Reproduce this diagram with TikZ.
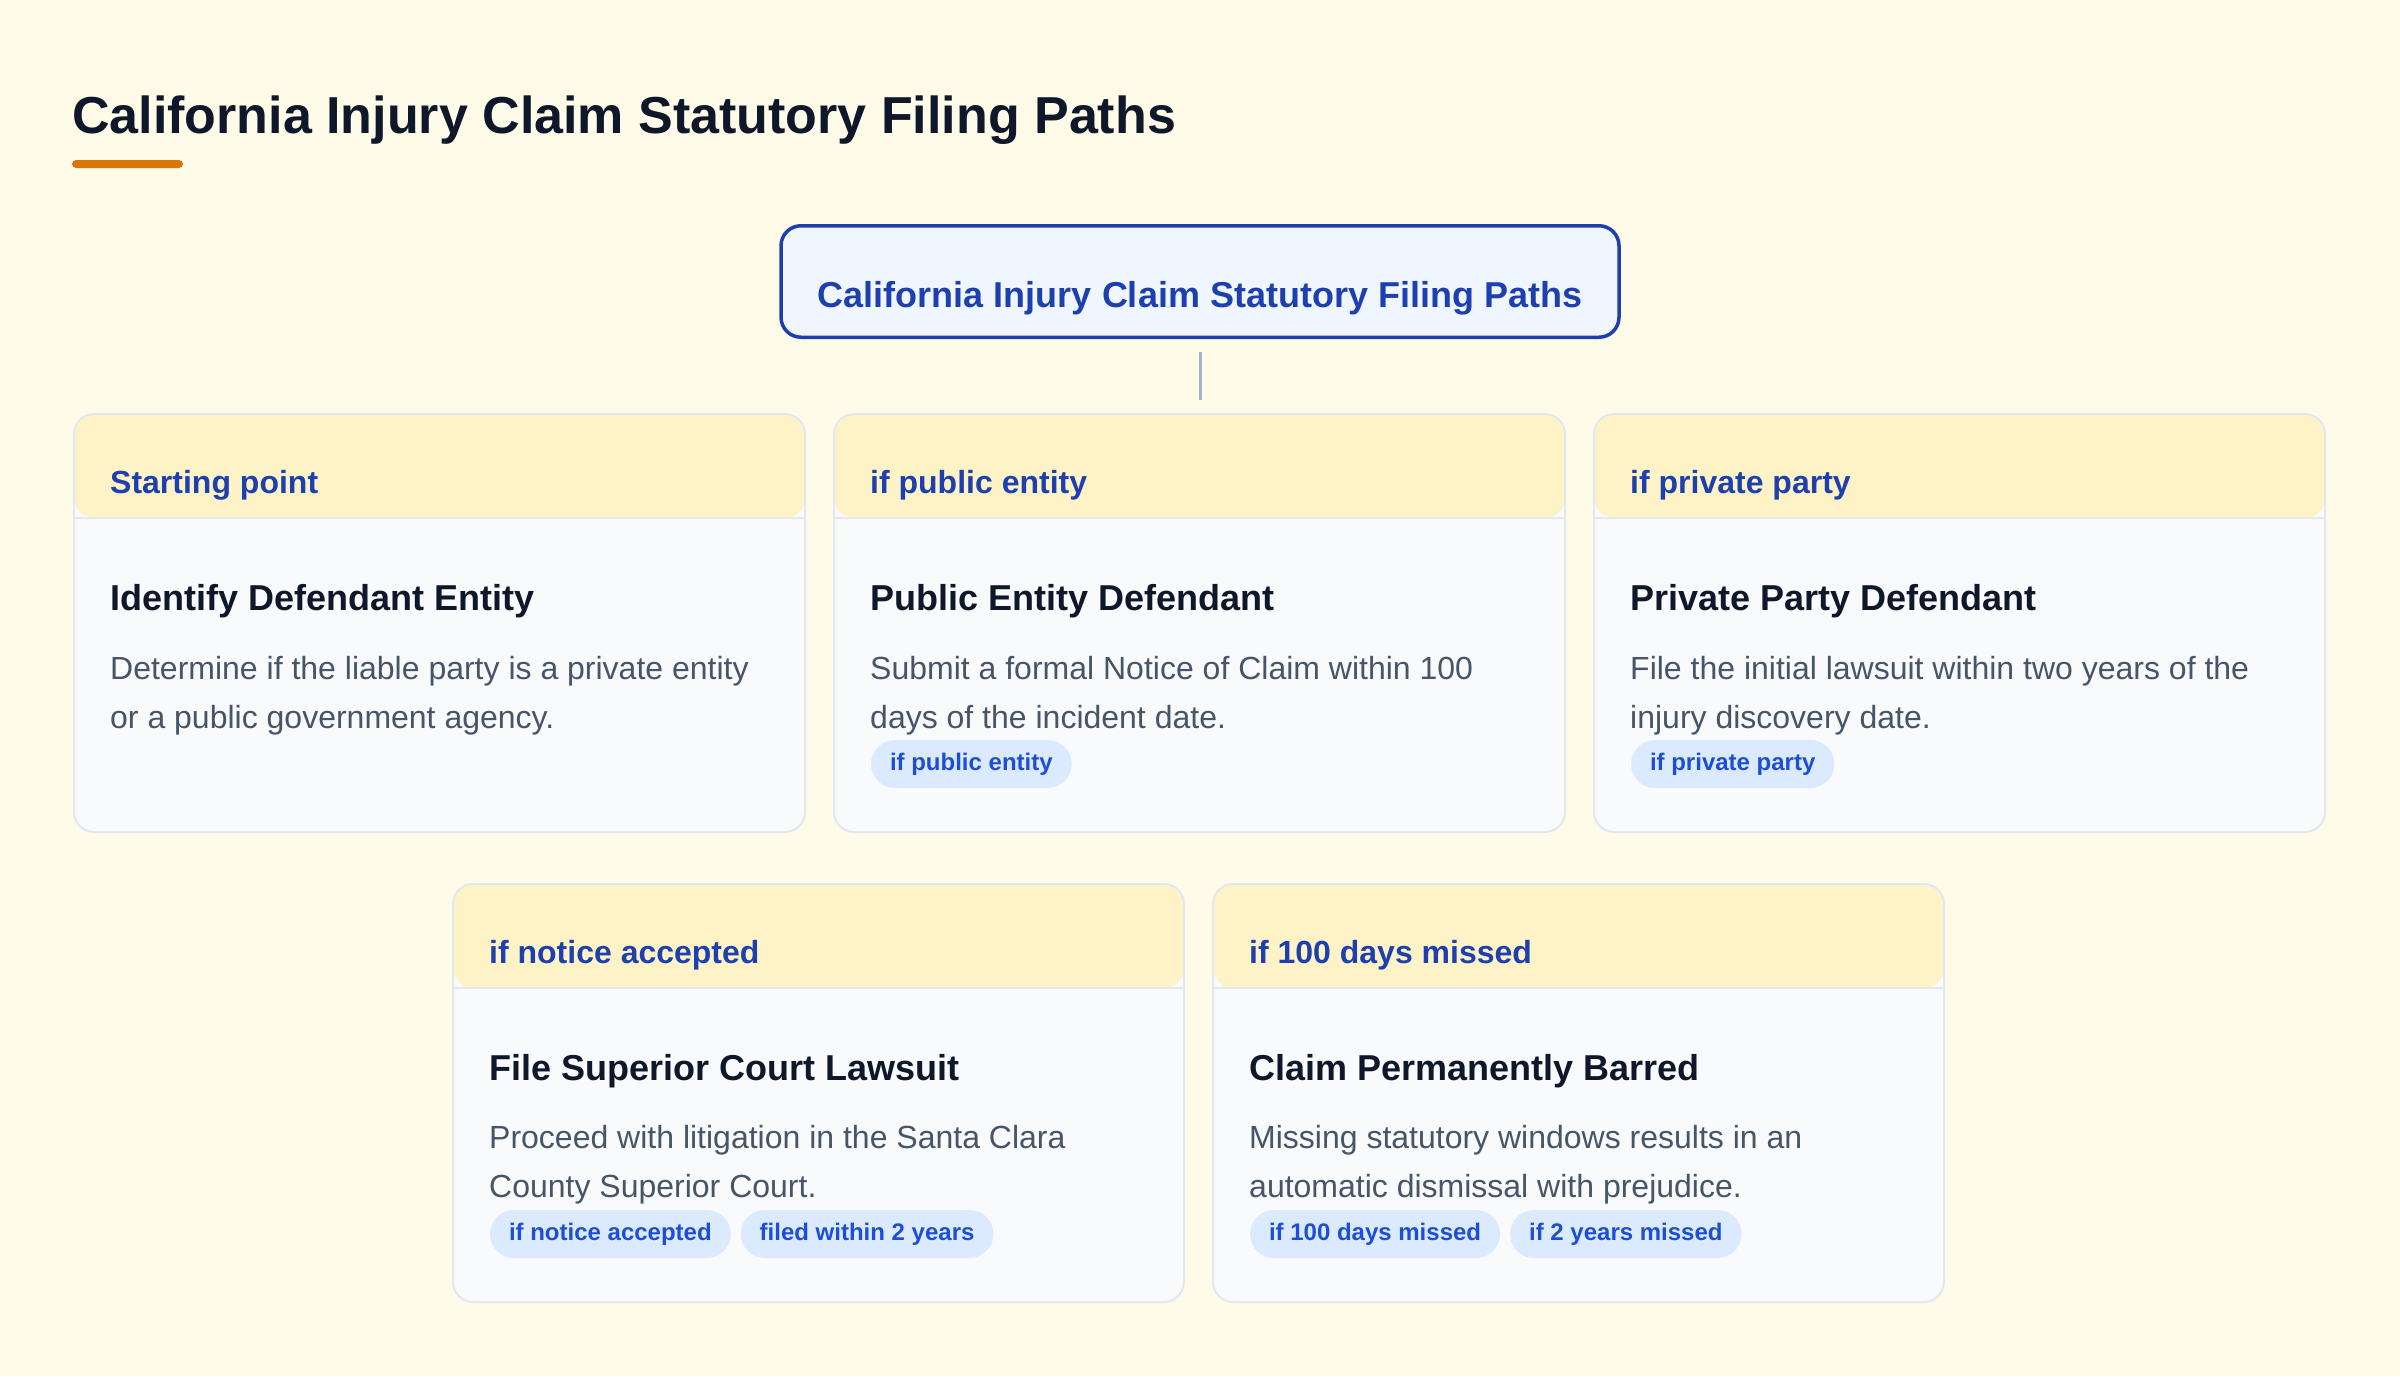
\documentclass[tikz,border=0pt]{standalone}
\usepackage{fontspec}
\setmainfont{Liberation Sans}
\usetikzlibrary{positioning}
\definecolor{bgcream}{HTML}{FEFCE8}
\definecolor{headfill}{HTML}{FEF3C7}
\definecolor{cardbody}{HTML}{F8FAFC}
\definecolor{cardline}{HTML}{E2E8F0}
\definecolor{rootfill}{HTML}{EFF6FF}
\definecolor{rootblue}{HTML}{1E40AF}
\definecolor{ink}{HTML}{0F172A}
\definecolor{slate}{HTML}{475569}
\definecolor{chipfill}{HTML}{DBEAFE}
\definecolor{chipblue}{HTML}{1D4ED8}
\definecolor{accent}{HTML}{D97706}
\newcommand\cola{74}
\newcommand\colb{834}
\newcommand\colc{1594}
\newcommand\cold{453}
\newcommand\cole{1213}
\newcommand\rowa{414}
\newcommand\rowb{884}

\begin{document}
\begin{tikzpicture}[x=1pt, y=-1pt,
    card/.style={rectangle, rounded corners=20pt, draw=cardline, line width=2pt, fill=cardbody,
        minimum width=731pt, minimum height=418pt, inner sep=0pt, outer sep=0pt, anchor=north west,
        path picture={
            \fill[headfill] (path picture bounding box.north west) rectangle ([yshift=-104pt]path picture bounding box.north east);
            \draw[cardline, line width=2pt] ([yshift=-104pt]path picture bounding box.north west) -- ([yshift=-104pt]path picture bounding box.north east);}},
    head/.style={anchor=base west, inner sep=0pt, text=rootblue, font=\fontsize{32}{38}\selectfont\bfseries},
    ttl/.style={anchor=base west, inner sep=0pt, text=ink, font=\fontsize{36}{42}\selectfont\bfseries},
    desc/.style={anchor=base west, inner sep=0pt, text=slate, font=\fontsize{32}{48}\selectfont},
    chip/.style={anchor=north west, fill=chipfill, rounded corners=24pt, inner xsep=19pt, inner ysep=13pt, outer sep=0pt,
        text height=17pt, text depth=5pt, text=chipblue, font=\fontsize{24}{28}\selectfont\bfseries},
    root/.style={draw=rootblue, line width=3.5pt, fill=rootfill, rounded corners=20pt, minimum width=838pt,
        inner ysep=0pt, text height=82pt, text depth=29.5pt, text=rootblue, font=\fontsize{36}{42}\selectfont\bfseries},
    link/.style={draw=rootblue!40!bgcream, line width=3pt}]

    \fill[bgcream] (0,0) rectangle (2400,1376);
    \useasboundingbox (0,0) rectangle (2400,1376);

    % Title
    \node[anchor=base west, inner sep=0pt, text=ink, font=\fontsize{52}{60}\selectfont\bfseries] (title) at (72, 133) {California Injury Claim Statutory Filing Paths};
    \fill[accent, rounded corners=4pt] (72, 160) rectangle (183, 168);

    % Root
    \node[root] (root) at (1200, 281.5) {California Injury Claim Statutory Filing Paths};

    % Starting point
    \node[card] (start) at (\cola, \rowa) {};
    \node[head] (start_h) at (\cola + 36, \rowa + 79) {Starting point};
    \node[ttl] (start_t) at (\cola + 36, \rowa + 196) {Identify Defendant Entity};
    \node[desc] (start_d1) at (\cola + 36, \rowa + 265) {Determine if the liable party is a private entity};
    \node[desc] (start_d2) at (\cola + 36, \rowa + 314) {or a public government agency.};

    % Public
    \node[card] (public) at (\colb, \rowa) {};
    \node[head] (public_h) at (\colb + 36, \rowa + 79) {if public entity};
    \node[ttl] (public_t) at (\colb + 36, \rowa + 196) {Public Entity Defendant};
    \node[desc] (public_d1) at (\colb + 36, \rowa + 265) {Submit a formal Notice of Claim within 100};
    \node[desc] (public_d2) at (\colb + 36, \rowa + 314) {days of the incident date.};
    \node[chip] (public_c) at (\colb + 37, \rowa + 326) {if public entity};

    % Private
    \node[card] (private) at (\colc, \rowa) {};
    \node[head] (private_h) at (\colc + 36, \rowa + 79) {if private party};
    \node[ttl] (private_t) at (\colc + 36, \rowa + 196) {Private Party Defendant};
    \node[desc] (private_d1) at (\colc + 36, \rowa + 265) {File the initial lawsuit within two years of the};
    \node[desc] (private_d2) at (\colc + 36, \rowa + 314) {injury discovery date.};
    \node[chip] (private_c) at (\colc + 37, \rowa + 326) {if private party};

    % Lawsuit
    \node[card] (suit) at (\cold, \rowb) {};
    \node[head] (suit_h) at (\cold + 36, \rowb + 79) {if notice accepted};
    \node[ttl] (suit_t) at (\cold + 36, \rowb + 196) {File Superior Court Lawsuit};
    \node[desc] (suit_d1) at (\cold + 36, \rowb + 264) {Proceed with litigation in the Santa Clara};
    \node[desc] (suit_d2) at (\cold + 36, \rowb + 313) {County Superior Court.};
    \node[chip] (suit_c1) at (\cold + 37, \rowb + 326) {if notice accepted};
    \node[chip, right=10pt of suit_c1.north east, anchor=north west] (suit_c2) {filed within 2 years};

    % Barred
    \node[card] (barred) at (\cole, \rowb) {};
    \node[head] (barred_h) at (\cole + 36, \rowb + 79) {if 100 days missed};
    \node[ttl] (barred_t) at (\cole + 36, \rowb + 196) {Claim Permanently Barred};
    \node[desc] (barred_d1) at (\cole + 36, \rowb + 264) {Missing statutory windows results in an};
    \node[desc] (barred_d2) at (\cole + 36, \rowb + 313) {automatic dismissal with prejudice.};
    \node[chip] (barred_c1) at (\cole + 37, \rowb + 326) {if 100 days missed};
    \node[chip, right=10pt of barred_c1.north east, anchor=north west] (barred_c2) {if 2 years missed};

    \draw[link] ([yshift=-13pt]root.south) -- ([yshift=14pt]root.south |- public.north);

\end{tikzpicture}
\end{document}
